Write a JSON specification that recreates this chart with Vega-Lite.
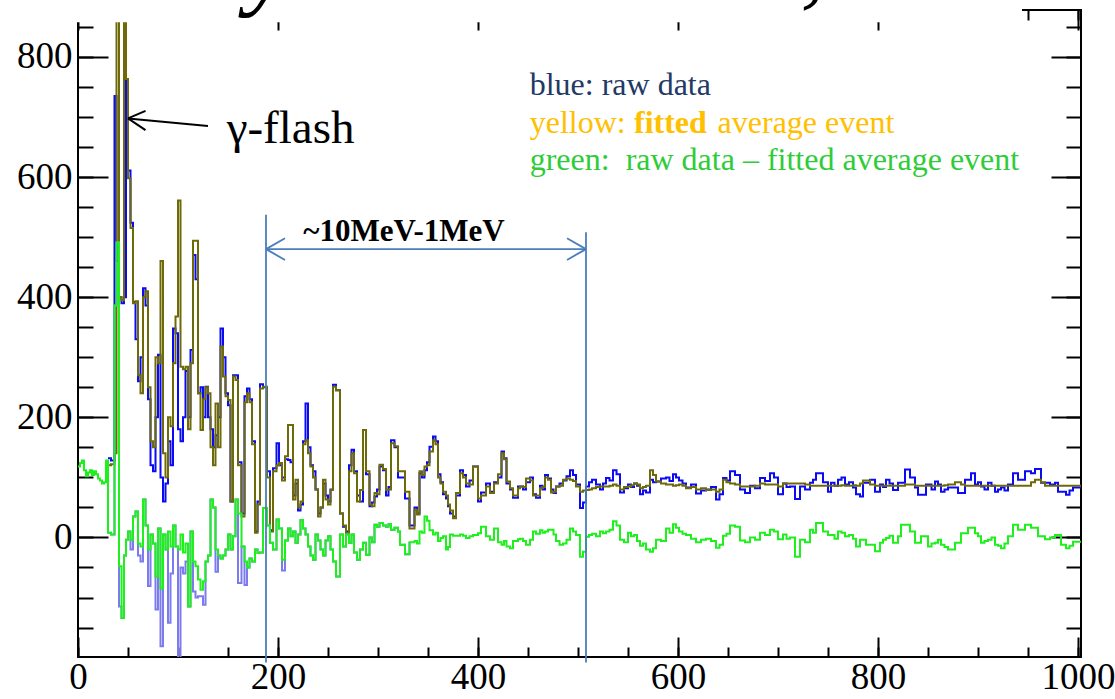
{
  "$schema": "https://vega.github.io/schema/vega-lite/v6.json",
  "width": 1003,
  "height": 647,
  "autosize": {"type": "none"},
  "padding": {"left": 78, "top": 10, "right": 34, "bottom": 42},
  "background": "white",
  "config": {"view": {"stroke": "black", "strokeWidth": 2}, "font": "Liberation Serif", "axis": {"labelFont": "Liberation Serif"}, "text": {"font": "Liberation Serif"}},
  "datasets": {
    "h": [
      {"x":0,"g":118},{"x":2,"g":124},{"x":4,"g":128},{"x":6,"g":112},{"x":8,"g":102},{"x":10,"g":108},{"x":12,"g":112},{"x":14,"g":104},{"x":16,"g":110},{"x":18,"g":105},{"x":20,"g":98},{"x":22,"g":95},{"x":24,"g":90},{"x":26,"g":92},{"x":28,"g":128},
      {"x":30,"r":132,"f":120,"g":8,"p":8},
      {"x":33,"r":128,"f":122,"g":5,"p":5},
      {"x":36.5,"r":735,"f":140,"g":386,"p":386},
      {"x":38.5,"r":460,"f":950,"g":491,"p":491},
      {"x":41,"r":400,"f":400,"g":-48,"p":-115},
      {"x":43.5,"r":390,"f":395,"g":-134,"p":-134},
      {"x":46,"r":400,"f":950,"g":-30,"p":-30},
      {"x":48,"r":763,"f":763,"g":-4,"p":-4},
      {"x":50,"r":611,"f":598,"g":10,"p":10},
      {"x":52.5,"r":524,"f":515,"g":-4,"p":-20},
      {"x":55,"r":392,"f":390,"g":35,"p":35},
      {"x":57.5,"r":330,"f":393,"g":43,"p":43},
      {"x":60,"r":260,"f":270,"g":-10,"p":-30},
      {"x":62.5,"r":300,"f":240,"g":-15,"p":-40},
      {"x":65,"r":415,"f":400,"g":63,"p":63},
      {"x":67.5,"r":386,"f":410,"g":20,"p":20},
      {"x":70,"r":230,"f":250,"g":-20,"p":-81},
      {"x":72.5,"r":120,"f":160,"g":5,"p":5},
      {"x":75,"r":110,"f":150,"g":-10,"p":-10},
      {"x":77.5,"r":200,"f":300,"g":-65,"p":-120},
      {"x":80,"r":304,"f":290,"g":15,"p":15},
      {"x":82.5,"r":100,"f":460,"g":-85,"p":-181},
      {"x":85,"r":60,"f":140,"g":5,"p":5},
      {"x":87.5,"r":90,"f":100,"g":-20,"p":-20},
      {"x":90,"r":160,"f":200,"g":10,"p":-142},
      {"x":92.5,"r":120,"f":185,"g":-15,"p":-60},
      {"x":95,"r":348,"f":290,"g":20,"p":20},
      {"x":97.5,"r":340,"f":368,"g":-15,"p":-15},
      {"x":100,"r":180,"f":561,"g":-20,"p":-260},
      {"x":102.5,"r":160,"f":284,"g":5,"p":-50},
      {"x":105,"r":200,"f":280,"g":-25,"p":-60},
      {"x":107.5,"r":277,"f":284,"g":-10,"p":-40},
      {"x":110,"r":200,"f":180,"g":-115,"p":-115},
      {"x":112.5,"r":312,"f":290,"g":10,"p":10},
      {"x":115,"r":470,"f":494,"g":-40,"p":-90},
      {"x":117.5,"r":430,"f":494,"g":-48,"p":-100},
      {"x":120,"r":240,"f":240,"g":-70,"p":-98},
      {"x":122.5,"r":250,"f":179,"g":-87,"p":-98},
      {"x":125,"r":200,"f":230,"g":-73,"p":-112},
      {"x":127.5,"r":251,"f":250,"g":-40,"p":-40},
      {"x":130,"r":200,"f":240,"g":-30,"p":-30},
      {"x":132.5,"r":180,"f":150,"g":63,"p":63},
      {"x":135,"r":150,"f":120,"g":50,"p":50},
      {"x":137.5,"r":170,"f":223,"g":-20,"p":-57},
      {"x":140,"r":200,"f":150,"g":-30,"p":-30},
      {"x":142.5,"r":348,"f":318,"g":-35,"p":-35},
      {"x":145,"r":300,"f":268,"g":-30,"p":-30},
      {"x":147.5,"r":240,"f":235,"g":-20,"p":-20},
      {"x":150,"r":220,"f":229,"g":5,"p":5},
      {"x":152.5,"r":60,"f":60,"g":-20,"p":-20},
      {"x":155,"r":270,"f":268,"g":2,"p":2},
      {"x":157.5,"r":270,"f":262,"g":63,"p":63},
      {"x":160,"r":125,"f":120,"g":40,"p":-76},
      {"x":163.5,"r":40,"f":35,"g":-15,"p":-15},
      {"x":166.5,"r":235,"f":225,"g":-40,"p":-79},
      {"x":169,"r":248,"f":240,"g":-50,"p":-50},
      {"x":171.5,"r":230,"f":225,"g":-35,"p":-35},
      {"x":174,"r":160,"f":155,"g":-40,"p":-40},
      {"x":177,"r":10,"f":8,"g":-20,"p":-20},
      {"x":179.5,"r":60,"f":55,"g":-26,"p":-26},
      {"x":182,"r":255,"f":248,"g":-25,"p":-25},
      {"x":185,"r":250,"f":251,"g":49,"p":49},
      {"x":189,"r":110,"f":100,"g":20,"p":20},
      {"x":192,"r":12,"f":10,"g":-9,"p":-9},
      {"x":195,"r":115,"f":110,"g":-20,"p":-20},
      {"x":198.5,"r":157,"f":120,"g":30,"p":30},
      {"x":201,"r":120,"f":124,"g":15,"p":15},
      {"x":204,"r":100,"f":95,"g":-37,"p":-55},
      {"x":207,"r":130,"f":135,"g":-5,"p":-5},
      {"x":210,"r":129,"f":187,"g":15,"p":15},
      {"x":212.5,"r":125,"f":187,"g":2,"p":2},
      {"x":215,"r":70,"f":63,"g":10,"p":10},
      {"x":217.5,"r":90,"f":96,"g":-9,"p":-9},
      {"x":220,"r":45,"f":50,"g":5,"p":5},
      {"x":222.5,"r":55,"f":60,"g":29,"p":29},
      {"x":225,"r":160,"f":155,"g":15,"p":15},
      {"x":227.5,"r":223,"f":162,"g":5,"p":5},
      {"x":230,"r":150,"f":140,"g":-15,"p":-15},
      {"x":232.5,"r":120,"f":118,"g":-30,"p":-30},
      {"x":235,"r":110,"f":100,"g":-37,"p":-37},
      {"x":237.5,"r":80,"f":80,"g":5,"p":5},
      {"x":240,"r":40,"f":35,"g":-5,"p":-5},
      {"x":242.5,"r":50,"f":50,"g":-20,"p":-20},
      {"x":245,"r":90,"f":96,"g":-30,"p":-30},
      {"x":247.5,"r":70,"f":63,"g":-5,"p":-5},
      {"x":250,"r":60,"f":55,"g":2,"p":2},
      {"x":252.5,"r":80,"f":79,"g":-20,"p":-20},
      {"x":255,"r":254,"f":251,"g":-40,"p":-40},
      {"x":258,"r":245,"f":245,"g":-65,"p":-65},
      {"x":262,"r":40,"f":40,"g":5,"p":5},
      {"x":265,"r":18,"f":20,"g":-15,"p":-15},
      {"x":268,"r":10,"f":7,"g":5,"p":5},
      {"x":271,"r":120,"f":110,"g":-9,"p":-9},
      {"x":273.5,"r":146,"f":140,"g":5,"p":5},
      {"x":276,"r":110,"f":107,"g":-25,"p":-25},
      {"x":279,"r":70,"f":60,"g":-37,"p":-37},
      {"x":282,"r":60,"f":79,"g":-20,"p":-20},
      {"x":285,"r":179,"f":179,"g":-9,"p":-9},
      {"x":288,"r":105,"f":110,"g":-29,"p":-29},
      {"x":291.5,"r":52,"f":55,"g":0,"p":0},
      {"x":294,"r":58,"f":52,"g":-8,"p":-8},
      {"x":296.5,"r":68,"f":74,"g":21,"p":21},
      {"x":299,"r":80,"f":72,"g":18,"p":18},
      {"x":301.5,"r":118,"f":121,"g":24,"p":24},
      {"x":305,"r":112,"f":114,"g":20,"p":20},
      {"x":308,"r":70,"f":79,"g":18,"p":18},
      {"x":310.5,"r":84,"f":80,"g":22,"p":22},
      {"x":313,"r":162,"f":157,"g":13,"p":13},
      {"x":316.5,"r":150,"f":152,"g":16,"p":16},
      {"x":320,"r":100,"f":110,"g":10,"p":10},
      {"x":322,"r":100,"f":110,"g":-12,"p":-12},
      {"x":327,"r":65,"f":76,"g":-28,"p":-28},
      {"x":331.5,"r":20,"f":15,"g":-8,"p":-8},
      {"x":336.5,"r":50,"f":46,"g":-6},
      {"x":339,"r":40,"f":38,"g":-10},
      {"x":341.5,"r":107,"f":110,"g":10},
      {"x":344,"r":100,"f":104,"g":8},
      {"x":346.5,"r":112,"f":118,"g":35},
      {"x":349,"r":125,"f":120,"g":28},
      {"x":351.5,"r":151,"f":143,"g":12},
      {"x":355,"r":168,"f":162,"g":5},
      {"x":357.5,"r":160,"f":155,"g":8},
      {"x":360,"r":105,"f":100,"g":-6},
      {"x":362.5,"r":92,"f":90,"g":-1},
      {"x":365,"r":72,"f":76,"g":2},
      {"x":368,"r":65,"f":70,"g":-20},
      {"x":370,"r":52,"f":55,"g":-16},
      {"x":372,"r":40,"f":45,"g":5},
      {"x":375,"r":35,"f":32,"g":3},
      {"x":378,"r":70,"f":74,"g":3},
      {"x":382,"r":112,"f":107,"g":5},
      {"x":385,"r":104,"f":100,"g":3},
      {"x":388,"r":85,"f":90,"g":-1},
      {"x":391.5,"r":95,"f":88,"g":2},
      {"x":395,"r":118,"f":118,"g":4},
      {"x":400,"r":60,"f":65,"g":7},
      {"x":403,"r":75,"f":70,"g":18},
      {"x":408,"r":90,"f":85,"g":2},
      {"x":412,"r":76,"f":74,"g":-4},
      {"x":416,"r":92,"f":90,"g":15},
      {"x":420,"r":100,"f":105,"g":-8},
      {"x":423.5,"r":143,"f":140,"g":-12},
      {"x":426,"r":132,"f":130,"g":-6},
      {"x":428.5,"r":90,"f":93,"g":-15},
      {"x":432,"r":80,"f":82,"g":-18},
      {"x":435,"r":66,"f":70,"g":-6},
      {"x":440,"r":85,"f":82,"g":-3},
      {"x":442,"r":85,"f":85,"g":-2},
      {"x":445,"r":80,"f":84,"g":-6},
      {"x":448,"r":92,"f":98,"g":-12},
      {"x":452,"r":100,"f":95,"g":-4},
      {"x":455,"r":72,"f":70,"g":10},
      {"x":458,"r":66,"f":70,"g":6},
      {"x":462,"r":86,"f":82,"g":12},
      {"x":464.5,"r":80,"f":84,"g":8},
      {"x":467,"r":104,"f":100,"g":10},
      {"x":470,"r":98,"f":96,"g":13},
      {"x":473,"r":80,"f":75,"g":13},
      {"x":475.5,"r":74,"f":76,"g":5},
      {"x":478,"r":85,"f":85,"g":-6},
      {"x":481.5,"r":90,"f":86,"g":-12},
      {"x":485,"r":95,"f":96,"g":-10},
      {"x":488.5,"r":102,"f":98,"g":-4},
      {"x":492,"r":112,"f":96,"g":15},
      {"x":495,"r":104,"f":94,"g":10},
      {"x":498,"r":88,"f":85,"g":4},
      {"x":502,"r":49,"f":76,"g":-32},
      {"x":505,"r":58,"f":78,"g":-24},
      {"x":508,"r":85,"f":79,"g":1},
      {"x":511,"r":92,"f":80,"g":4},
      {"x":514,"r":96,"f":82,"g":6},
      {"x":518,"r":88,"f":84,"g":2},
      {"x":522,"r":80,"f":85,"g":10},
      {"x":525,"r":90,"f":85,"g":7},
      {"x":528,"r":99,"f":85,"g":10},
      {"x":531.5,"r":95,"f":86,"g":13},
      {"x":535,"r":112,"f":88,"g":27},
      {"x":538.5,"r":105,"f":86,"g":20},
      {"x":542,"r":75,"f":80,"g":-4},
      {"x":546,"r":82,"f":84,"g":-8},
      {"x":550,"r":88,"f":85,"g":8},
      {"x":553,"r":84,"f":87,"g":2},
      {"x":556,"r":90,"f":90,"g":4},
      {"x":559,"r":86,"f":88,"g":-6},
      {"x":562,"r":72,"f":82,"g":-14},
      {"x":565,"r":78,"f":84,"g":-10},
      {"x":568,"r":75,"f":86,"g":-20},
      {"x":572,"r":96,"f":112,"g":-24},
      {"x":575,"r":92,"f":104,"g":-18},
      {"x":578,"r":93,"f":93,"g":-4},
      {"x":583,"r":98,"f":90,"g":-6},
      {"x":588,"r":100,"f":88,"g":15},
      {"x":591.5,"r":94,"f":88,"g":8},
      {"x":595,"r":105,"f":86,"g":22},
      {"x":598,"r":100,"f":87,"g":16},
      {"x":601,"r":95,"f":88,"g":10},
      {"x":604.5,"r":90,"f":86,"g":6},
      {"x":608,"r":83,"f":82,"g":4},
      {"x":613,"r":88,"f":84,"g":-2},
      {"x":618,"r":73,"f":80,"g":-8},
      {"x":623,"r":78,"f":82,"g":-4},
      {"x":628,"r":80,"f":79,"g":-2},
      {"x":633,"r":84,"f":80,"g":-6},
      {"x":638,"r":63,"f":76,"g":-17},
      {"x":641.5,"r":72,"f":80,"g":-12},
      {"x":645,"r":99,"f":96,"g":3},
      {"x":648.5,"r":95,"f":92,"g":6},
      {"x":652,"r":110,"f":90,"g":20},
      {"x":657,"r":104,"f":88,"g":18},
      {"x":662,"r":80,"f":85,"g":-5},
      {"x":667,"r":74,"f":85,"g":-8},
      {"x":672,"r":86,"f":85,"g":0},
      {"x":677,"r":82,"f":86,"g":-4},
      {"x":682,"r":99,"f":90,"g":8},
      {"x":687,"r":94,"f":88,"g":4},
      {"x":692,"r":107,"f":88,"g":13},
      {"x":696,"r":100,"f":88,"g":10},
      {"x":700,"r":72,"f":85,"g":-3},
      {"x":705,"r":90,"f":90,"g":5},
      {"x":708.5,"r":84,"f":90,"g":-2},
      {"x":712,"r":85,"f":90,"g":0},
      {"x":717,"r":64,"f":90,"g":-32},
      {"x":722,"r":85,"f":90,"g":-4},
      {"x":727,"r":80,"f":88,"g":-8},
      {"x":732,"r":91,"f":86,"g":13},
      {"x":735,"r":96,"f":86,"g":8},
      {"x":738,"r":107,"f":86,"g":24},
      {"x":745,"r":92,"f":86,"g":10},
      {"x":750,"r":76,"f":86,"g":4},
      {"x":753,"r":91,"f":86,"g":4},
      {"x":756.5,"r":86,"f":86,"g":-2},
      {"x":760,"r":96,"f":86,"g":10},
      {"x":763.5,"r":100,"f":87,"g":8},
      {"x":767,"r":88,"f":86,"g":2},
      {"x":771,"r":92,"f":86,"g":4},
      {"x":775,"r":83,"f":87,"g":-2},
      {"x":778,"r":72,"f":86,"g":-15},
      {"x":782,"r":68,"f":90,"g":-4},
      {"x":785,"r":91,"f":95,"g":-4},
      {"x":788,"r":91,"f":95,"g":-12},
      {"x":792,"r":96,"f":88,"g":-12},
      {"x":797,"r":76,"f":86,"g":-23},
      {"x":802,"r":88,"f":86,"g":-9},
      {"x":805,"r":84,"f":86,"g":-4},
      {"x":808,"r":96,"f":86,"g":-1},
      {"x":811.5,"r":90,"f":86,"g":3},
      {"x":815,"r":79,"f":86,"g":-9},
      {"x":820,"r":91,"f":86,"g":2},
      {"x":823,"r":91,"f":86,"g":21},
      {"x":827,"r":113,"f":88,"g":21},
      {"x":832,"r":100,"f":88,"g":10},
      {"x":837,"r":83,"f":86,"g":-9},
      {"x":840,"r":71,"f":86,"g":-9},
      {"x":843,"r":71,"f":86,"g":2},
      {"x":848,"r":88,"f":86,"g":2},
      {"x":850,"r":88,"f":86,"g":-15},
      {"x":853.5,"r":80,"f":86,"g":-10},
      {"x":857,"r":93,"f":86,"g":-9},
      {"x":860,"r":88,"f":86,"g":-4},
      {"x":863,"r":76,"f":86,"g":-12},
      {"x":866.5,"r":80,"f":87,"g":-16},
      {"x":870,"r":83,"f":88,"g":-20},
      {"x":877,"r":83,"f":92,"g":-9},
      {"x":880,"r":74,"f":92,"g":-9},
      {"x":883,"r":74,"f":88,"g":7},
      {"x":887,"r":96,"f":86,"g":7},
      {"x":890,"r":96,"f":86,"g":16},
      {"x":893,"r":107,"f":86,"g":16},
      {"x":897,"r":88,"f":86,"g":7},
      {"x":900,"r":92,"f":86,"g":2},
      {"x":903,"r":85,"f":86,"g":-9},
      {"x":906.5,"r":80,"f":86,"g":-6},
      {"x":910,"r":91,"f":86,"g":-4},
      {"x":913.5,"r":86,"f":86,"g":0},
      {"x":917,"r":76,"f":86,"g":-12},
      {"x":920,"r":80,"f":86,"g":-14},
      {"x":923,"r":83,"f":86,"g":-18},
      {"x":926.5,"r":78,"f":86,"g":-10},
      {"x":930,"r":88,"f":86,"g":2},
      {"x":935,"r":107,"f":86,"g":21},
      {"x":940,"r":96,"f":86,"g":13},
      {"x":947,"r":110,"f":86,"g":21},
      {"x":953,"r":107,"f":92,"g":16},
      {"x":957,"r":114,"f":96,"g":16},
      {"x":960,"r":114,"f":96,"g":2},
      {"x":963,"r":91,"f":92,"g":2},
      {"x":967,"r":91,"f":86,"g":-3},
      {"x":972,"r":88,"f":86,"g":0},
      {"x":977,"r":91,"f":86,"g":4},
      {"x":980,"r":76,"f":86,"g":4},
      {"x":983,"r":76,"f":86,"g":-12},
      {"x":988,"r":71,"f":86,"g":-18},
      {"x":991.5,"r":78,"f":86,"g":-14},
      {"x":995,"r":83,"f":86,"g":-7},
      {"x":1003,"r":83,"f":86,"g":-7}
    ]
  },
  "layer": [
    {
      "data": {"name": "h"},
      "mark": {"type": "line", "interpolate": "step-after", "color": "#0a0af5", "strokeWidth": 2, "clip": true},
      "encoding": {
        "x": {"field": "x", "type": "quantitative", "scale": {"domain": [0, 1003], "nice": false, "zero": false},
          "axis": {"orient": "bottom", "values": [0,200,400,600,800,1000], "format": "d", "tickSize": -20, "tickWidth": 2, "tickColor": "black", "domain": false, "grid": false, "labelFont": "Liberation Serif", "labelFontSize": 37, "labelColor": "black", "labelPadding": 22, "labelFlush": false, "labelOverlap": false, "title": null}},
        "y": {"field": "r", "type": "quantitative", "scale": {"domain": [-199, 878], "nice": false, "zero": false},
          "axis": {"orient": "left", "values": [0,200,400,600,800], "format": "d", "tickSize": -30, "tickWidth": 2, "tickColor": "black", "domain": false, "grid": false, "labelFont": "Liberation Serif", "labelFontSize": 37, "labelColor": "black", "labelPadding": 36, "labelOverlap": false, "title": null}}
      }
    },
    {
      "data": {"name": "h"},
      "mark": {"type": "line", "interpolate": "step-after", "color": "#6f6a08", "strokeWidth": 2, "clip": true},
      "encoding": {
        "x": {"field": "x", "type": "quantitative", "axis": null},
        "y": {"field": "f", "type": "quantitative", "axis": null}
      }
    },
    {
      "data": {"name": "h"},
      "mark": {"type": "line", "interpolate": "step-after", "color": "#7b7bef", "strokeWidth": 2, "clip": true},
      "encoding": {
        "x": {"field": "x", "type": "quantitative", "axis": null},
        "y": {"field": "p", "type": "quantitative", "axis": null}
      }
    },
    {
      "mark": {"type": "rule", "color": "#c6f7c6", "strokeWidth": 1.5},
      "encoding": {"y": {"datum": 0, "type": "quantitative", "axis": null}}
    },
    {
      "data": {"name": "h"},
      "mark": {"type": "line", "interpolate": "step-after", "color": "#1ef01e", "strokeWidth": 2, "clip": true},
      "encoding": {
        "x": {"field": "x", "type": "quantitative", "axis": null},
        "y": {"field": "g", "type": "quantitative", "axis": null}
      }
    },
    {
      "data": {"values": [{"x": -20, "x2": 944, "y": 857.5, "y2": 905}]},
      "mark": {"type": "rect", "color": "white", "clip": false},
      "encoding": {
        "x": {"field": "x", "type": "quantitative", "axis": null},
        "x2": {"field": "x2"},
        "y": {"field": "y", "type": "quantitative", "axis": null},
        "y2": {"field": "y2"}
      }
    },
    {
      "data": {"values": [{"x": 191, "y": 899, "t": "y"}, {"x": 735, "y": 903, "t": ","}]},
      "mark": {"type": "text", "align": "center", "baseline": "alphabetic", "font": "Liberation Serif", "fontSize": 100, "fontStyle": "italic", "color": "black", "clip": false},
      "encoding": {
        "x": {"field": "x", "type": "quantitative", "axis": null},
        "y": {"field": "y", "type": "quantitative", "axis": null},
        "text": {"field": "t"}
      }
    },
    {
      "data": {"values": [
        {"x":188,"y":-208,"x2":188,"y2":537},
        {"x":508,"y":-208,"x2":508,"y2":508},
        {"x":188,"y":480,"x2":508,"y2":480},
        {"x":188,"y":480,"x2":207,"y2":498},
        {"x":188,"y":480,"x2":207,"y2":462},
        {"x":508,"y":480,"x2":489,"y2":498},
        {"x":508,"y":480,"x2":489,"y2":462}
      ]},
      "mark": {"type": "rule", "color": "#4a7ebb", "strokeWidth": 1.8, "clip": false},
      "encoding": {
        "x": {"field": "x", "type": "quantitative", "axis": null},
        "x2": {"field": "x2"},
        "y": {"field": "y", "type": "quantitative", "axis": null},
        "y2": {"field": "y2"}
      }
    },
    {
      "data": {"values": [
        {"x":130,"y":685,"x2":50,"y2":697.5},
        {"x":50,"y":697.5,"x2":67.5,"y2":710},
        {"x":50,"y":697.5,"x2":67.5,"y2":678}
      ]},
      "mark": {"type": "rule", "color": "black", "strokeWidth": 2, "clip": false},
      "encoding": {
        "x": {"field": "x", "type": "quantitative", "axis": null},
        "x2": {"field": "x2"},
        "y": {"field": "y", "type": "quantitative", "axis": null},
        "y2": {"field": "y2"}
      }
    },
    {
      "data": {"values": [{"x": 148.7, "y": 656.5, "t": "γ-flash"}]},
      "mark": {"type": "text", "align": "left", "baseline": "alphabetic", "font": "Liberation Serif", "fontSize": 47, "color": "black"},
      "encoding": {
        "x": {"field": "x", "type": "quantitative", "axis": null},
        "y": {"field": "y", "type": "quantitative", "axis": null},
        "text": {"field": "t"}
      }
    },
    {
      "data": {"values": [{"x": 326, "y": 494, "t": "~10MeV-1MeV"}]},
      "mark": {"type": "text", "align": "center", "baseline": "alphabetic", "font": "Liberation Serif", "fontSize": 31, "fontWeight": "bold", "color": "black"},
      "encoding": {
        "x": {"field": "x", "type": "quantitative", "axis": null},
        "y": {"field": "y", "type": "quantitative", "axis": null},
        "text": {"field": "t"}
      }
    },
    {
      "data": {"values": [
        {"x": 451.7, "y": 736.3, "t": "blue: raw data", "c": "b"},
        {"x": 451.7, "y": 673.6, "t": "yellow:", "c": "y"},
        {"x": 639.6, "y": 673.6, "t": "average event", "c": "y"},
        {"x": 451.7, "y": 611.6, "t": "green:\u00a0 raw data – fitted average event", "c": "g"}
      ]},
      "mark": {"type": "text", "align": "left", "baseline": "alphabetic", "font": "Liberation Serif", "fontSize": 32},
      "encoding": {
        "x": {"field": "x", "type": "quantitative", "axis": null},
        "y": {"field": "y", "type": "quantitative", "axis": null},
        "text": {"field": "t"},
        "color": {"field": "c", "type": "nominal", "scale": {"domain": ["b", "y", "g"], "range": ["#1f3a64", "#ffc000", "#2fcc3a"]}, "legend": null}
      }
    },
    {
      "data": {"values": [{"x": 556, "y": 673.6, "t": "fitted"}]},
      "mark": {"type": "text", "align": "left", "baseline": "alphabetic", "font": "Liberation Serif", "fontSize": 32, "fontWeight": "bold", "color": "#ffc000"},
      "encoding": {
        "x": {"field": "x", "type": "quantitative", "axis": null},
        "y": {"field": "y", "type": "quantitative", "axis": null},
        "text": {"field": "t"}
      }
    },
    {
      "data": {"name": "h"},
      "mark": {"type": "point", "opacity": 0},
      "encoding": {
        "x": {"field": "x", "type": "quantitative",
          "axis": {"orient": "bottom", "values": [0,50,100,150,200,250,300,350,400,450,500,550,600,650,700,750,800,850,900,950,1000], "tickSize": -10, "tickWidth": 2, "tickColor": "black", "domain": false, "grid": false, "labels": false, "title": null}},
        "y": {"field": "g", "type": "quantitative",
          "axis": {"orient": "left", "values": [-150,-100,-50,0,50,100,150,200,250,300,350,400,450,500,550,600,650,700,750,800,850], "tickSize": -15, "tickWidth": 2, "tickColor": "black", "domain": false, "grid": false, "labels": false, "title": null}}
      }
    },
    {
      "data": {"name": "h"},
      "mark": {"type": "point", "opacity": 0},
      "encoding": {
        "x": {"field": "x", "type": "quantitative",
          "axis": {"orient": "top", "values": [0,200,400,600,800,1000], "tickSize": -20, "tickWidth": 2, "tickColor": "black", "domain": false, "grid": false, "labels": false, "title": null}},
        "y": {"field": "g", "type": "quantitative",
          "axis": {"orient": "right", "values": [0,200,400,600,800], "tickSize": -30, "tickWidth": 2, "tickColor": "black", "domain": false, "grid": false, "labels": false, "title": null}}
      }
    },
    {
      "data": {"name": "h"},
      "mark": {"type": "point", "opacity": 0},
      "encoding": {
        "x": {"field": "x", "type": "quantitative",
          "axis": {"orient": "top", "values": [0,50,100,150,200,250,300,350,400,450,500,550,600,650,700,750,800,850,900,950,1000], "tickSize": -10, "tickWidth": 2, "tickColor": "black", "domain": false, "grid": false, "labels": false, "title": null}},
        "y": {"field": "g", "type": "quantitative",
          "axis": {"orient": "right", "values": [-150,-100,-50,0,50,100,150,200,250,300,350,400,450,500,550,600,650,700,750,800,850], "tickSize": -15, "tickWidth": 2, "tickColor": "black", "domain": false, "grid": false, "labels": false, "title": null}}
      }
    }
  ],
  "resolve": {"axis": {"x": "independent", "y": "independent"}}
}
